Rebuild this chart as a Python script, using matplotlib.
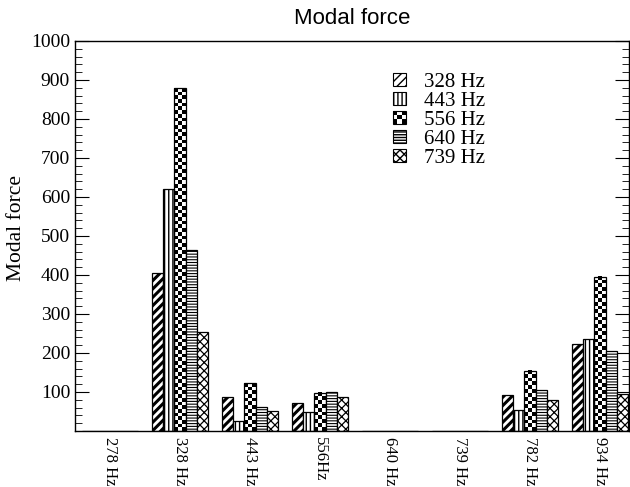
import numpy as np
import matplotlib
matplotlib.use("Agg")
import matplotlib.pyplot as plt
from matplotlib.patches import Rectangle, Patch
from matplotlib.legend_handler import HandlerBase
from matplotlib.ticker import MultipleLocator

categories = ["278 Hz", "328 Hz", "443 Hz", "556Hz", "640 Hz", "739 Hz", "782 Hz", "934 Hz"]
series_names = ["328 Hz", "443 Hz", "556 Hz", "640 Hz", "739 Hz"]

f328 = [0, 406, 87, 72, 0, 0, 93, 224]
f443 = [0, 620, 26, 49, 0, 0, 54, 237]
f556 = [0, 879, 123, 98, 0, 0, 154, 395]
f640 = [0, 465, 62, 100, 0, 0, 105, 206]
f739 = [0, 254, 51, 87, 0, 0, 80, 96]

series = [f328, f443, f556, f640, f739]
hatches = ["////", "||||", None, "------", "xxxx"]   # None -> checkerboard
hatch_lw = [2.2, 1.0, 1.0, 0.8, 0.9]

plt.rcParams["font.family"] = ["Liberation Serif", "DejaVu Serif"]
plt.rcParams["hatch.linewidth"] = 1.0


class CheckerHandler(HandlerBase):
    def create_artists(self, legend, orig_handle, xdescent, ydescent,
                       width, height, fontsize, trans):
        arts = []
        n = 3
        cw, ch = width / n, height / n
        for i in range(n):
            for j in range(n):
                fc = "black" if (i + j) % 2 == 0 else "white"
                arts.append(Rectangle((-xdescent + i * cw, -ydescent + j * ch), cw, ch,
                                      facecolor=fc, edgecolor="none", transform=trans))
        arts.append(Rectangle((-xdescent, -ydescent), width, height, fill=False,
                              edgecolor="black", lw=0.8, transform=trans))
        return arts


def checker_fill(ax, bar, cell_h=9.5, ncols=3):
    x0 = bar.get_x()
    w = bar.get_width()
    h = bar.get_height()
    if h <= 0:
        return
    nrows = max(1, int(round(h / cell_h)))
    rr, cc = np.indices((nrows, ncols))
    img = ((rr + cc) % 2).astype(float)
    ax.imshow(img, cmap="gray", vmin=0, vmax=1, extent=(x0, x0 + w, 0, h),
              origin="lower", aspect="auto", interpolation="nearest", zorder=1)


def set_hlw(patch, lw):
    if hasattr(patch, "set_hatch_linewidth"):
        patch.set_hatch_linewidth(lw)


fig = plt.figure(figsize=(6.3, 4.87), dpi=100)
ax = fig.add_axes([0.119, 0.115, 0.879, 0.801])

x = np.arange(len(categories))
width = 0.16
for k, (vals, hatch) in enumerate(zip(series, hatches)):
    pos = x + (k - 2) * width
    if hatch is None:
        bars = ax.bar(pos, vals, width, facecolor="none", edgecolor="black",
                      linewidth=0.9, zorder=2)
        for b in bars:
            checker_fill(ax, b)
    else:
        with plt.rc_context({"hatch.linewidth": hatch_lw[k]}):
            bars = ax.bar(pos, vals, width, facecolor="white", edgecolor="black",
                          hatch=hatch, linewidth=0.9, zorder=2)
        for b in bars:
            set_hlw(b, hatch_lw[k])

ax.set_xlim(-0.5, 7.41)
ax.set_ylim(0, 1000)
ax.set_xticks(x)
ax.set_xticklabels(categories, rotation=270, fontsize=12)
ax.tick_params(axis="x", length=0, pad=4)
ax.set_yticks(np.arange(100, 1001, 100))
ax.yaxis.set_minor_locator(MultipleLocator(20))
ax.tick_params(axis="y", which="major", direction="in", length=10, width=0.8,
               labelsize=14, left=True, right=True)
ax.tick_params(axis="y", which="minor", direction="in", length=5, width=0.6,
               left=True, right=True)
for s in ax.spines.values():
    s.set_linewidth(1.0)

ax.set_ylabel("Modal force", fontsize=15.5)
ax.yaxis.set_label_coords(-0.088, 0.52)
ax.set_title("Modal force", fontsize=16, family=["Liberation Sans", "DejaVu Sans"], pad=12)

handles = []
handler_map = {}
for name, hatch, hl in zip(series_names, hatches, hatch_lw):
    if hatch is None:
        p = Patch(facecolor="white", edgecolor="black", label=name)
        handler_map[p] = CheckerHandler()
    else:
        p = Patch(facecolor="white", edgecolor="black", hatch=hatch, label=name, lw=0.8)
        set_hlw(p, hl)
    handles.append(p)

ax.legend(handles=handles, handler_map=handler_map, loc="upper left",
          bbox_to_anchor=(0.601, 0.881), bbox_transform=fig.transFigure,
          frameon=False, fontsize=15, handlelength=0.6, handleheight=0.6,
          handletextpad=0.9, labelspacing=0.0, borderpad=0.2)

fig.savefig("out.png", dpi=100)
